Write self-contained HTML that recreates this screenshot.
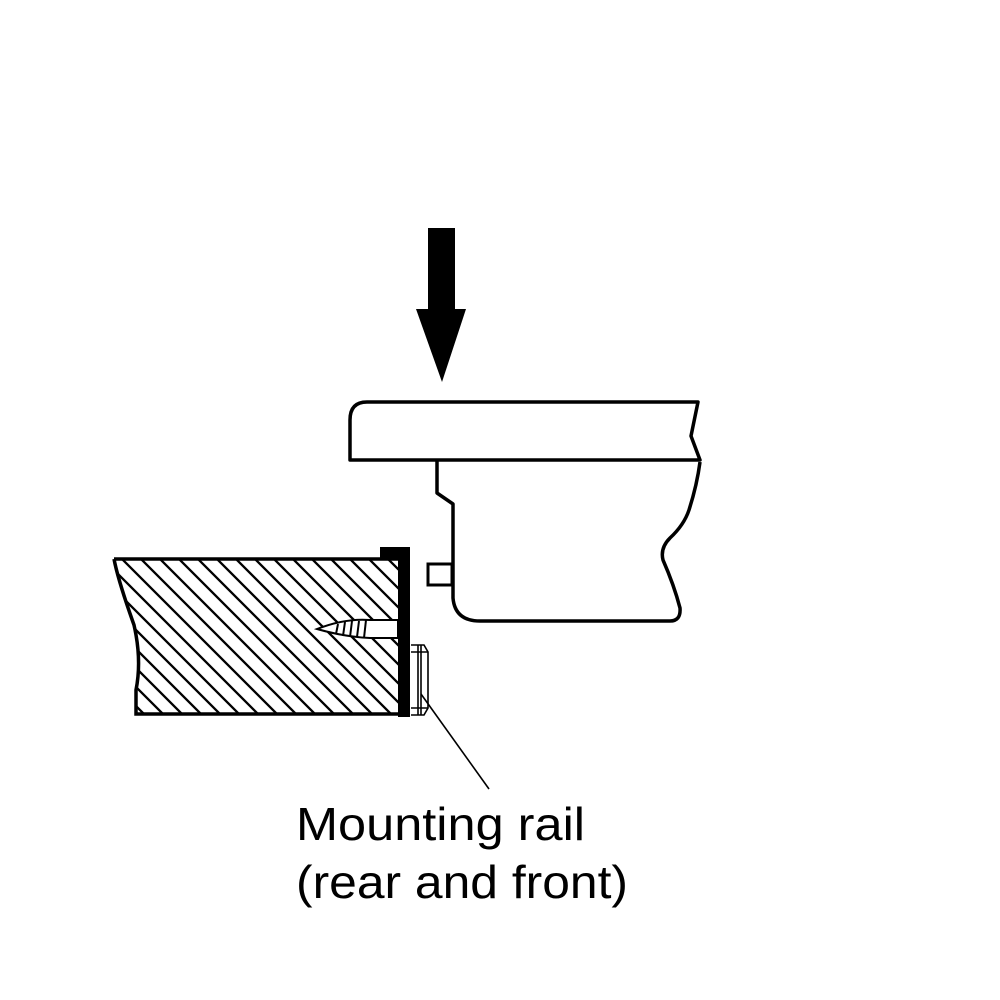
<!DOCTYPE html>
<html><head><meta charset="utf-8"><style>html,body{margin:0;padding:0;background:#fff}svg{display:block}</style></head>
<body>
<svg width="1000" height="1000" viewBox="0 0 1000 1000" xmlns="http://www.w3.org/2000/svg">
<defs>
<clipPath id="wood"><path d="M114,559 L398,559 L398,714 L136,714 L136,690 Q142,660 134,625 Q118,580 114,559 Z"/></clipPath>
<pattern id="hat" patternUnits="userSpaceOnUse" width="19" height="19">
<path d="M-5,-5 L24,24 M-5,14 L5,24 M14,-5 L24,5" stroke="#000" stroke-width="2.3"/>
</pattern>
</defs>
<!-- arrow -->
<rect x="428" y="228" width="27" height="82" fill="#000"/>
<polygon points="416,309 466,309 442,382" fill="#000"/>
<!-- slab -->
<path d="M367,402 L698,402 L691,436 L700,460 L350,460 L350,420 Q350,402 367,402 Z" fill="none" stroke="#000" stroke-width="3.5" stroke-linejoin="round"/>
<!-- body -->
<path d="M437,460 L437,493 L453,504 L453,598 Q455,621 480,621 L670,621 Q681,621 680,608 Q674,585 663,560 Q660,548 670,538 Q684,525 689,510 Q697,485 700,462" fill="none" stroke="#000" stroke-width="3.5" stroke-linejoin="round"/>
<rect x="428" y="564" width="24" height="21" fill="#fff" stroke="#000" stroke-width="3"/>
<!-- hatching -->
<rect x="100" y="540" width="310" height="190" fill="url(#hat)" clip-path="url(#wood)"/>
<!-- screw hole -->
<path d="M317,629 Q345,618 370,620 L398,620 L398,638 L370,638 Q345,637 317,629 Z" fill="#fff" stroke="#000" stroke-width="2"/>
<g stroke="#000" stroke-width="2">
<line x1="338" y1="624" x2="336" y2="634"/><line x1="345" y1="622" x2="343" y2="636"/>
<line x1="352" y1="621" x2="350" y2="637"/><line x1="359" y1="621" x2="357" y2="637"/>
<line x1="366" y1="620" x2="364" y2="638"/>
</g>
<!-- wood outline -->
<path d="M114,559 L398,559 M398,714 L136,714 L136,690 Q142,660 134,625 Q118,580 114,559" fill="none" stroke="#000" stroke-width="3.5"/>
<!-- plate -->
<rect x="398" y="547" width="12" height="170" fill="#000"/>
<rect x="380" y="547" width="30" height="12" fill="#000"/>
<!-- nut -->
<g fill="none" stroke="#000" stroke-width="1.6">
<path d="M411,645 L424,645 L428,652 L428,708 L424,715 L411,715"/>
<line x1="411" y1="652" x2="428" y2="652"/><line x1="411" y1="708" x2="428" y2="708"/>
<line x1="418" y1="645" x2="418" y2="715"/><line x1="421" y1="645" x2="421" y2="715"/>
</g>
<line x1="421" y1="694" x2="489" y2="789" stroke="#000" stroke-width="1.6"/>
<text x="296" y="840" font-family="Liberation Sans, sans-serif" font-size="46" textLength="289" lengthAdjust="spacingAndGlyphs">Mounting rail</text>
<text x="296" y="898" font-family="Liberation Sans, sans-serif" font-size="46" textLength="332" lengthAdjust="spacingAndGlyphs">(rear and front)</text>
</svg>
</body></html>
